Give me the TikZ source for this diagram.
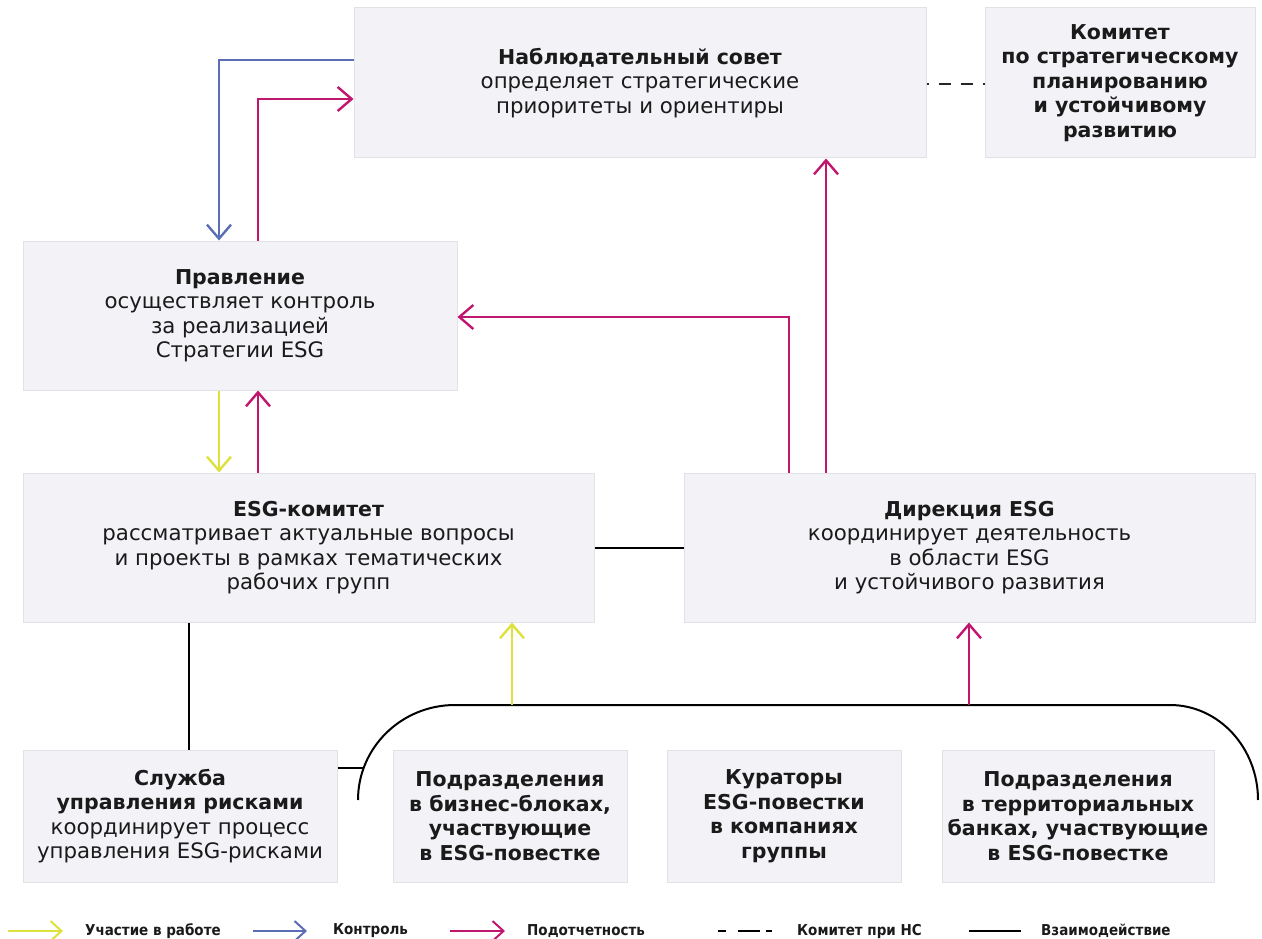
\documentclass[tikz,border=0pt]{standalone}
\usepackage{fontspec}
\setmainfont{DejaVu Sans}
\newfontfamily\legfont{DejaVu Sans Condensed}
\usetikzlibrary{arrows.meta}
\definecolor{boxfill}{HTML}{F3F3F7}
\definecolor{boxline}{HTML}{E1E1E6}
\definecolor{cyel}{HTML}{DEE03C}
\definecolor{cblue}{HTML}{5A6DB5}
\definecolor{cmag}{HTML}{C0166E}
\definecolor{ctext}{HTML}{1A1A1A}
\newcommand\hd[1]{{\fontsize{20.5}{24.5}\selectfont\bfseries #1}}
\tikzset{
  box/.style={draw=boxline, line width=1pt, fill=boxfill, align=center, inner sep=0pt,
    text=ctext, font=\fontsize{21.3}{24.5}\selectfont},
  tip/.style={-{Straight Barb[length=14pt,width=24pt]}},
  part/.style={tip, draw=cyel, line width=2.4pt},
  ctrl/.style={tip, draw=cblue, line width=2.4pt},
  rep/.style={tip, draw=cmag, line width=2.4pt},
  inter/.style={draw=black, line width=2pt},
  nc/.style={draw=black!85, line width=2pt, dash pattern=on 12pt off 10pt, dash phase=10pt},
  leg/.style={anchor=west, inner sep=0pt, text=ctext, font=\legfont\bfseries\fontsize{15}{16}\selectfont}
}
\begin{document}
\begin{tikzpicture}[x=1pt,y=-1pt]
\useasboundingbox (0,0) rectangle (1262,939);
% boxes
\node[box, minimum width=572pt, minimum height=150pt] (ns) at (640,83)
  {\hd{Наблюдательный совет}\\определяет стратегические\\приоритеты и ориентиры};
\node[box, minimum width=270pt, minimum height=150pt] (kom) at (1120,83)
  {\hd{Комитет}\\\hd{по стратегическому}\\\hd{планированию}\\\hd{и устойчивому}\\\hd{развитию}};
\node[box, minimum width=434pt, minimum height=149pt] (pr) at (240,315.5)
  {\hd{Правление}\\осуществляет контроль\\за реализацией\\Стратегии ESG};
\node[box, minimum width=571pt, minimum height=149pt] (esgk) at (308.5,547.5)
  {\hd{ESG-комитет}\\рассматривает актуальные вопросы\\и проекты в рамках тематических\\рабочих групп};
\node[box, minimum width=571pt, minimum height=149pt] (dir) at (969.5,547.5)
  {\hd{Дирекция ESG}\\координирует деятельность\\в области ESG\\и устойчивого развития};
\node[box, minimum width=314pt, minimum height=132pt] (sl) at (180,816)
  {\hd{Служба}\\\hd{управления рисками}\\координирует процесс\\управления ESG-рисками};
\node[box, minimum width=234pt, minimum height=132pt] (pb) at (510,816)
  {\hd{Подразделения}\\\hd{в бизнес-блоках,}\\\hd{участвующие}\\\hd{в ESG-повестке}};
\node[box, minimum width=234pt, minimum height=132pt] (kur) at (784,816)
  {\hd{Кураторы}\\\hd{ESG-повестки}\\\hd{в компаниях}\\\hd{группы}};
\node[box, minimum width=272pt, minimum height=132pt] (pt) at (1078,816)
  {\hd{Подразделения}\\\hd{в территориальных}\\\hd{банках, участвующие}\\\hd{в ESG-повестке}};
% helper coordinates
\coordinate (y60) at (0,60);
\coordinate (y99) at (0,99);
\coordinate (y86) at (0,84);
\coordinate (y317) at (0,317);
\coordinate (y768) at (0,768);
\coordinate (x219) at (219,0);
\coordinate (x258) at (258,0);
\coordinate (x789) at (789,0);
\coordinate (x826) at (826,0);
\coordinate (x189) at (189,0);
\coordinate (x512) at (512,0);
\coordinate (x969) at (969,0);
\coordinate (brL) at (358,800);
\coordinate (brTL) at (455,705);
\coordinate (brTR) at (1170,705);
\coordinate (brR) at (1258,800);
\coordinate (brX) at (364,768);
% connectors
\draw[ctrl] (ns.west |- y60) -| (x219 |- pr.north);
\draw[rep] (x258 |- pr.north) |- (ns.west |- y99);
\draw[part] (x219 |- pr.south) -- (x219 |- esgk.north);
\draw[rep] (x258 |- esgk.north) -- (x258 |- pr.south);
\draw[rep] (x789 |- dir.north) |- (pr.east |- y317);
\draw[rep] (x826 |- dir.north) -- (x826 |- ns.south);
\draw[nc] (ns.east |- y86) -- (kom.west |- y86);
\draw[inter] (esgk.east) -- (dir.west);
\draw[inter] (x189 |- esgk.south) -- (x189 |- sl.north);
\draw[inter] (sl.east |- y768) -- (brX);
% bracket
\draw[inter] (brL) .. controls (358,747.5) and (401.4,705) .. (brTL) -- (brTR)
  .. controls (1218.6,705) and (1258,747.5) .. (brR);
\draw[part] (x512 |- brTL) -- (x512 |- esgk.south);
\draw[rep] (x969 |- brTL) -- (x969 |- dir.south);
% legend
\coordinate (l1a) at (8,931); \coordinate (l1b) at (63,931);
\coordinate (l2a) at (253,931); \coordinate (l2b) at (307,931);
\coordinate (l3a) at (450,931); \coordinate (l3b) at (505,931);
\coordinate (l4a) at (718,931); \coordinate (l4b) at (772,931);
\coordinate (l5a) at (969,931); \coordinate (l5b) at (1021,931);
\draw[part, line width=2pt, -{Straight Barb[length=11pt,width=20pt]}] (l1a) -- (l1b);
\node[leg] (t1) at (85,931) {Участие в работе};
\draw[ctrl, line width=2pt, -{Straight Barb[length=11pt,width=20pt]}] (l2a) -- (l2b);
\node[leg] (t2) at (333,931) {Контроль};
\draw[rep, line width=2pt, -{Straight Barb[length=11pt,width=20pt]}] (l3a) -- (l3b);
\node[leg] (t3) at (527,931) {Подотчетность};
\draw[draw=black, line width=2pt, dash pattern=on 8pt off 12pt on 22pt off 6pt on 6pt] (l4a) -- (l4b);
\node[leg] (t4) at (797,931) {Комитет при НС};
\draw[inter, line width=2.5pt] (l5a) -- (l5b);
\node[leg] (t5) at (1041,931) {Взаимодействие};
\end{tikzpicture}
\end{document}
